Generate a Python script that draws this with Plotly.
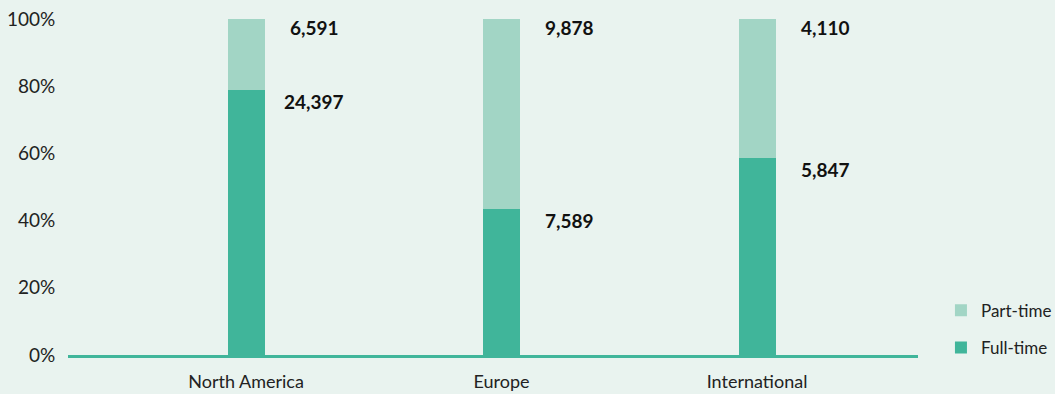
import plotly.graph_objects as go

regions = ["North America", "Europe", "International"]
full_time = [24397, 7589, 5847]
part_time = [6591, 9878, 4110]
y_ticks = [0, 0.2, 0.4, 0.6, 0.8, 1.0]
y_tick_labels = ["0%", "20%", "40%", "60%", "80%", "100%"]

FULL_COLOR = "#40b59a"
PART_COLOR = "#a2d5c5"
BG = "#e9f3ef"
FONT = "Lato, 'Open Sans', sans-serif"

totals = [f + p for f, p in zip(full_time, part_time)]
full_share = [f / t for f, t in zip(full_time, totals)]
part_share = [p / t for p, t in zip(part_time, totals)]

fig = go.Figure()
fig.add_trace(go.Bar(x=list(range(len(regions))), y=full_share, name="Full-time",
                     legendgroup="full", legendrank=2,
                     marker=dict(color=FULL_COLOR, line=dict(width=0)), width=0.145))
fig.add_trace(go.Bar(x=list(range(len(regions))), y=part_share, name="Part-time",
                     legendgroup="part", legendrank=1,
                     marker=dict(color=PART_COLOR, line=dict(width=0)), width=0.145))

# value labels next to each segment, aligned with the segment's top edge
for i in range(len(regions)):
    for val, top, shift in ((full_time[i], full_share[i], 2), (part_time[i], 1.0, 5)):
        fig.add_annotation(x=i, y=top, xref="x", yref="y", text=f"<b>{val:,}</b>",
                           showarrow=False, xanchor="center", yanchor="top",
                           xshift=68, yshift=shift,
                           font=dict(family=FONT, size=19, color="#111111"))

fig.update_layout(
    barmode="stack",
    width=1055, height=394,
    paper_bgcolor=BG, plot_bgcolor=BG,
    margin=dict(l=68, r=137, t=19, b=39, autoexpand=False),
    font=dict(family=FONT, size=16, color="#222222"),
    bargap=0,
    legend=dict(traceorder="grouped", x=1.027, xanchor="left", y=-0.032, yanchor="bottom",
                bgcolor="rgba(0,0,0,0)", font=dict(size=17, color="#222222"),
                itemwidth=30, tracegroupgap=12),
    xaxis=dict(tickmode="array", tickvals=list(range(len(regions))), ticktext=regions,
               range=[-0.697, 2.63], showline=True, linecolor=FULL_COLOR, linewidth=3,
               showgrid=False, zeroline=False, ticks="outside", ticklen=8,
               tickcolor="rgba(0,0,0,0)", tickfont=dict(size=18, color="#222222"),
               automargin=False),
    yaxis=dict(range=[0, 1], tickvals=y_ticks, ticktext=y_tick_labels, showgrid=False,
               zeroline=False, showline=False, ticks="outside", ticklen=8,
               tickcolor="rgba(0,0,0,0)", tickfont=dict(size=19, color="#222222"),
               automargin=False),
)

fig.write_html("out.html")
